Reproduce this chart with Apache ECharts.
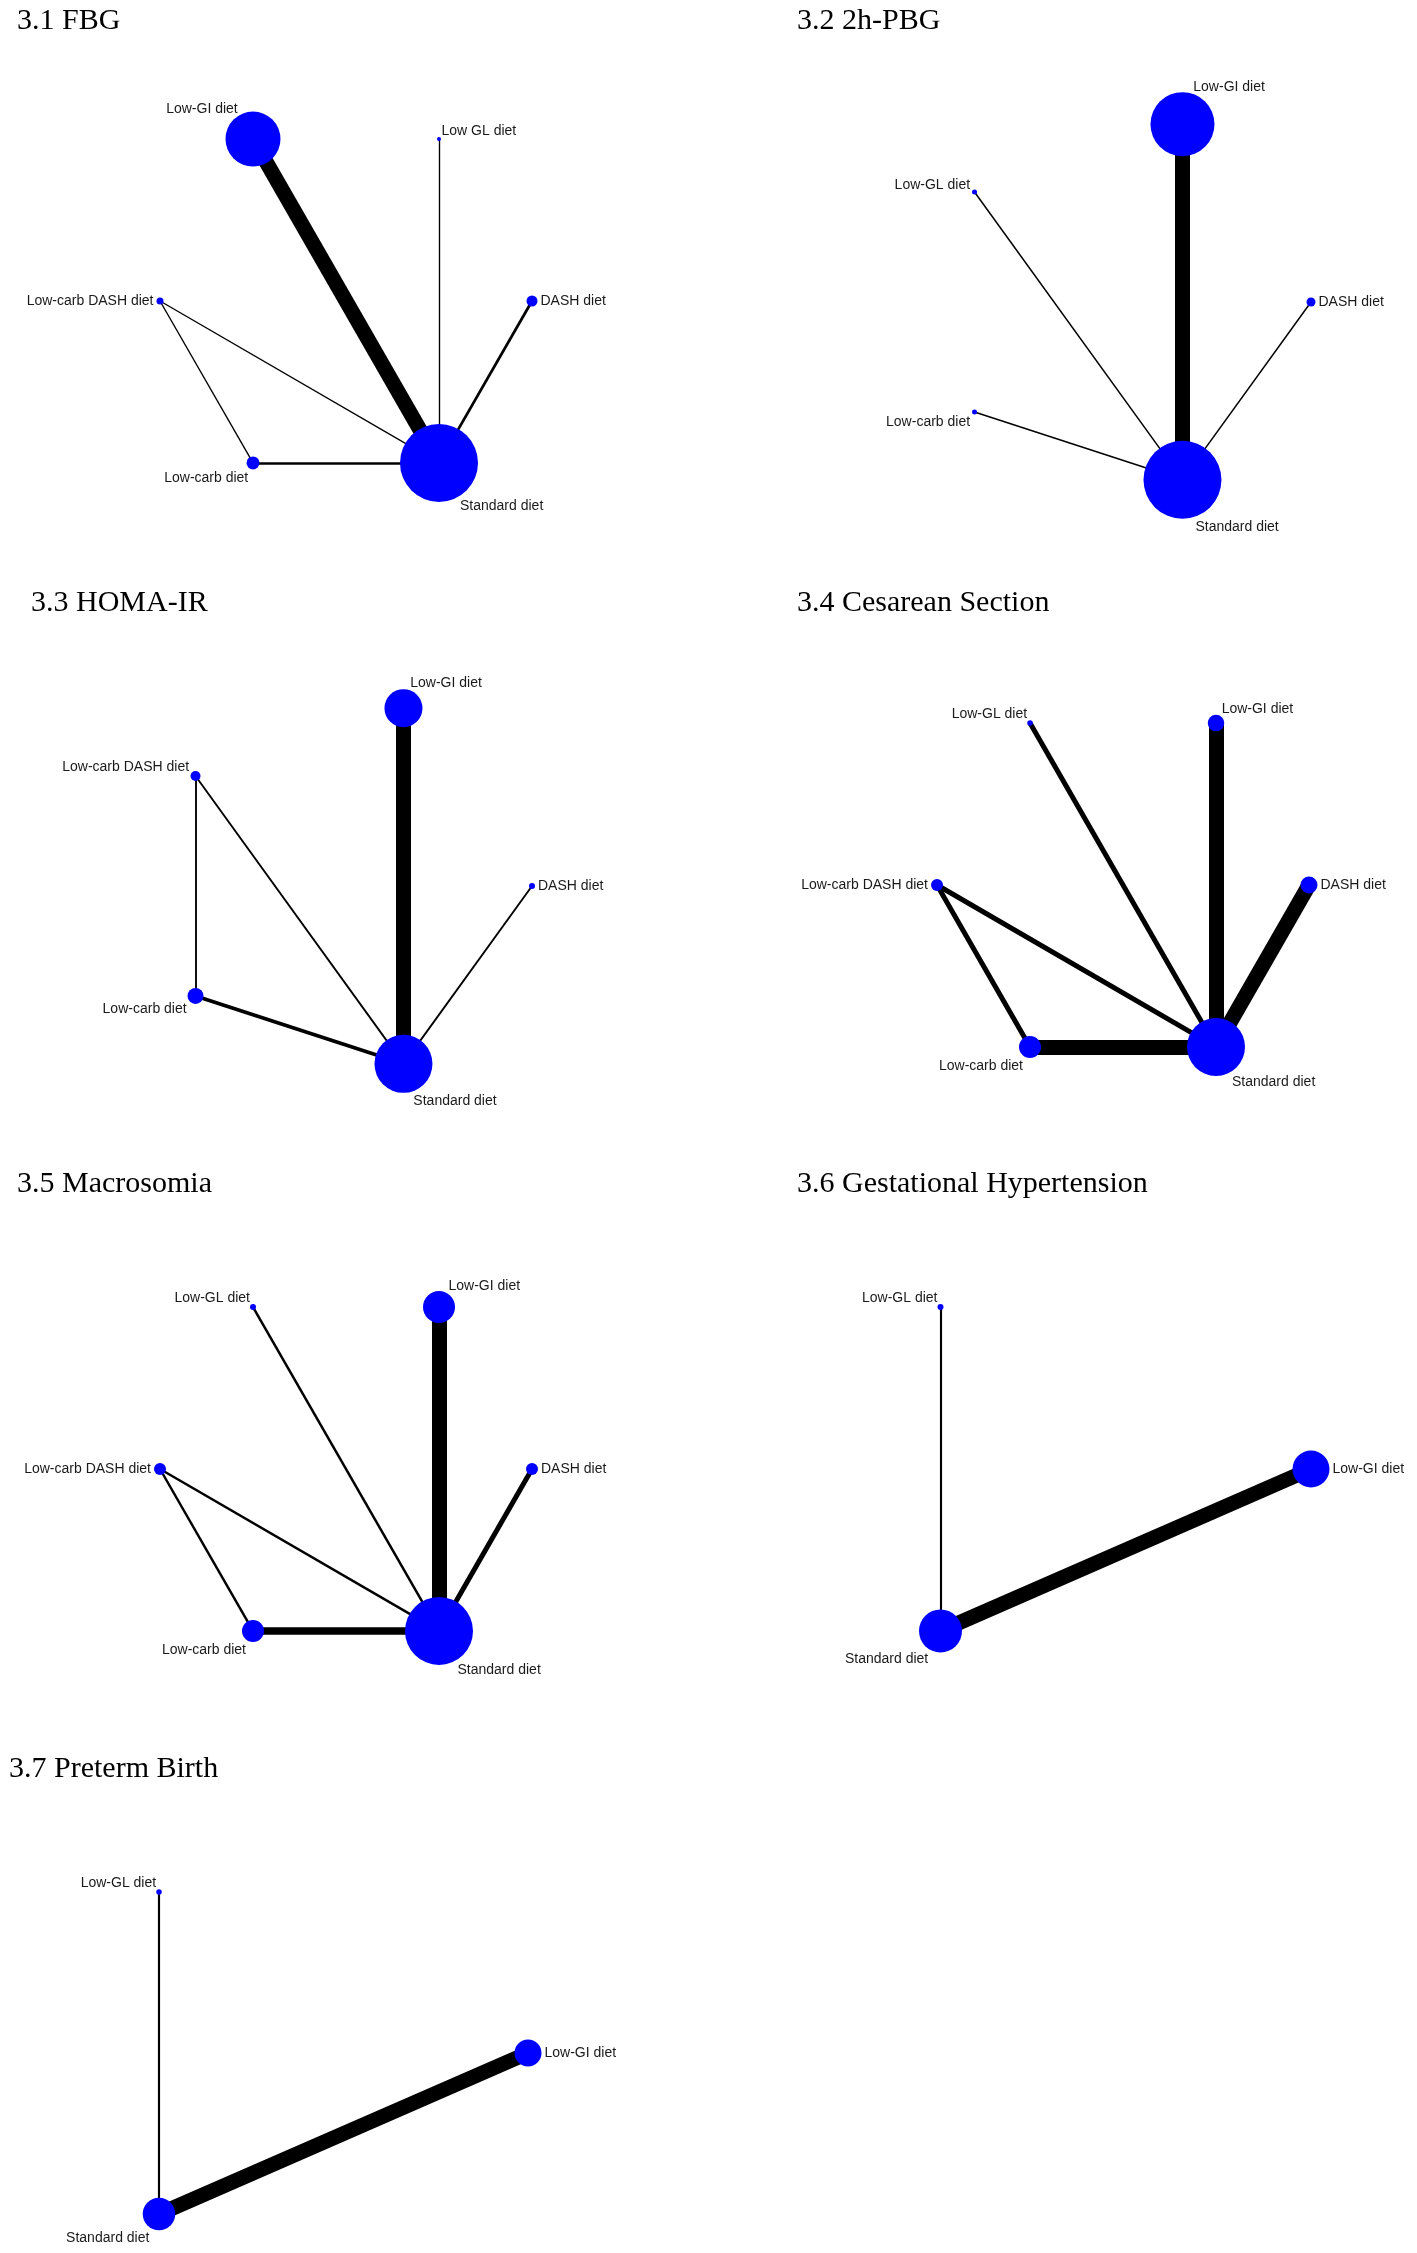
<!DOCTYPE html>
<html>
<head>
<meta charset="utf-8">
<title>Network plots</title>
<script src="https://cdn.jsdelivr.net/npm/echarts@6/dist/echarts.min.js"></script>
<style>
  html, body { margin: 0; padding: 0; background: #fff; }
  #chart { width: 1417px; height: 2253px; }
</style>
</head>
<body>
<div id="chart"></div>
<script>
// ---- data ----
// node layout positions (circle layout units), node weights, edges [from, to, studies]
var hexNames = ['DASH diet', 'Low-GI diet', 'Low-GL diet', 'Low-carb DASH diet', 'Low-carb diet', 'Standard diet'];
var hexX = [1, 0.5, -0.5, -1, -0.5, 0.5];
var hexY = [0, 0.866, 0.866, 0, -0.866, -0.866];
var pentX = [1, 0.309, -0.809, -0.809, 0.309];
var pentY = [0, 0.951, 0.588, -0.588, -0.951];
var triX = [1, -0.5, -0.5];
var triY = [0, 0.866, -0.866];

var titles = ['3.1 FBG', '3.2 2h-PBG', '3.3 HOMA-IR', '3.4 Cesarean Section',
  '3.5 Macrosomia', '3.6 Gestational Hypertension', '3.7 Preterm Birth'];

// 3.1 FBG
var fbgNames = ['DASH diet', 'Low GL diet', 'Low-GI diet', 'Low-carb DASH diet', 'Low-carb diet', 'Standard diet'];
var fbgWeight = [1.1, 0.4, 5.5, 0.7, 1.3, 7.8];
var fbgEdges = [
  ['Low-GI diet', 'Standard diet', 11],
  ['Low GL diet', 'Standard diet', 1],
  ['DASH diet', 'Standard diet', 2],
  ['Low-carb DASH diet', 'Standard diet', 1],
  ['Low-carb DASH diet', 'Low-carb diet', 1],
  ['Low-carb diet', 'Standard diet', 2]
];

// 3.2 2h-PBG
var pbgNames = ['DASH diet', 'Low-GI diet', 'Low-GL diet', 'Low-carb diet', 'Standard diet'];
var pbgWeight = [0.9, 6.4, 0.5, 0.5, 7.8];
var pbgEdges = [
  ['Low-GI diet', 'Standard diet', 10],
  ['Low-GL diet', 'Standard diet', 1],
  ['DASH diet', 'Standard diet', 1],
  ['Low-carb diet', 'Standard diet', 1]
];

// 3.3 HOMA-IR
var homaNames = ['DASH diet', 'Low-GI diet', 'Low-carb DASH diet', 'Low-carb diet', 'Standard diet'];
var homaWeight = [0.6, 3.8, 1.0, 1.6, 5.8];
var homaEdges = [
  ['Low-GI diet', 'Standard diet', 8],
  ['Low-carb DASH diet', 'Low-carb diet', 1],
  ['Low-carb DASH diet', 'Standard diet', 1],
  ['DASH diet', 'Standard diet', 1],
  ['Low-carb diet', 'Standard diet', 2]
];

// 3.4 Cesarean Section
var csWeight = [1.7, 1.65, 0.55, 1.2, 2.2, 5.8];
var csEdges = [
  ['Low-GI diet', 'Standard diet', 3],
  ['DASH diet', 'Standard diet', 3],
  ['Low-carb diet', 'Standard diet', 3],
  ['Low-GL diet', 'Standard diet', 1],
  ['Low-carb DASH diet', 'Standard diet', 1],
  ['Low-carb DASH diet', 'Low-carb diet', 1]
];

// 3.5 Macrosomia
var macWeight = [1.2, 3.2, 0.6, 1.2, 2.2, 6.8];
var macEdges = [
  ['Low-GI diet', 'Standard diet', 6],
  ['Low-carb diet', 'Standard diet', 3],
  ['DASH diet', 'Standard diet', 2],
  ['Low-GL diet', 'Standard diet', 1],
  ['Low-carb DASH diet', 'Standard diet', 1],
  ['Low-carb DASH diet', 'Low-carb diet', 1]
];

// 3.6 Gestational Hypertension / 3.7 Preterm Birth
var triNames = ['Low-GI diet', 'Low-GL diet', 'Standard diet'];
var ghWeight = [3.7, 0.6, 4.3];
var ghEdges = [['Low-GI diet', 'Standard diet', 7], ['Low-GL diet', 'Standard diet', 1]];
var pbWeight = [2.7, 0.55, 3.25];
var pbEdges = [['Low-GI diet', 'Standard diet', 7], ['Low-GL diet', 'Standard diet', 1]];

var panels = [
  {names: fbgNames, x: hexX, y: hexY, w: fbgWeight, edges: fbgEdges},
  {names: pbgNames, x: pentX, y: pentY, w: pbgWeight, edges: pbgEdges},
  {names: homaNames, x: pentX, y: pentY, w: homaWeight, edges: homaEdges},
  {names: hexNames, x: hexX, y: hexY, w: csWeight, edges: csEdges},
  {names: hexNames, x: hexX, y: hexY, w: macWeight, edges: macEdges},
  {names: triNames, x: triX, y: triY, w: ghWeight, edges: ghEdges},
  {names: triNames, x: triX, y: triY, w: pbWeight, edges: pbEdges}
];

// ---- page layout (pixels) ----
var frames = [
  {cx: 346, cy: 301, ux: 186, uy: 187, tx: 17, ty: 6},
  {cx: 1125, cy: 302, ux: 186, uy: 187, tx: 797, ty: 6},
  {cx: 346, cy: 886, ux: 186, uy: 187, tx: 31, ty: 588},
  {cx: 1123, cy: 885, ux: 186, uy: 187, tx: 797, ty: 588},
  {cx: 346, cy: 1469, ux: 186, uy: 187, tx: 17, ty: 1169},
  {cx: 1064, cy: 1469, ux: 247, uy: 187, tx: 797, ty: 1169},
  {cx: 282, cy: 2053, ux: 246, uy: 186, tx: 9, ty: 1754}
];

var NODE_PX = 10;     // symbol diameter per unit of weight
var EDGE_MAX = 15;    // width of the thickest edge in a panel
var SPAN = 1.05;

var grids = [], xAxes = [], yAxes = [], series = [], titleList = [];

panels.forEach(function (p, i) {
  var f = frames[i];
  grids.push({
    left: f.cx - f.ux * SPAN, top: f.cy - f.uy * SPAN,
    width: f.ux * SPAN * 2, height: f.uy * SPAN * 2
  });
  xAxes.push({type: 'value', gridIndex: i, min: -SPAN, max: SPAN, show: false});
  yAxes.push({type: 'value', gridIndex: i, min: -SPAN, max: SPAN, show: false});
  titleList.push({
    text: titles[i], left: f.tx, top: f.ty, padding: 0,
    textStyle: {fontFamily: 'Liberation Serif', fontSize: 30, fontWeight: 'normal', color: '#000'}
  });

  var maxStudies = 0;
  p.edges.forEach(function (e) { if (e[2] > maxStudies) maxStudies = e[2]; });

  var nodes = p.names.map(function (name, k) {
    var size = p.w[k] * NODE_PX;
    var len = Math.sqrt(p.x[k] * p.x[k] + p.y[k] * p.y[k]);
    var ux = p.x[k] / len, uy = -p.y[k] / len;
    var off = size / 2 + 3;
    var align = Math.abs(ux) < 0.2 ? 'center' : (ux > 0 ? 'left' : 'right');
    var valign = Math.abs(uy) < 0.2 ? 'middle' : (uy > 0 ? 'top' : 'bottom');
    // text sitting above a node: its box includes the descent, pull it down a bit
    var nudge = valign === 'bottom' ? 3 : 0;
    return {
      name: name,
      value: [p.x[k], p.y[k]],
      symbolSize: size,
      label: {
        show: true,
        position: [size / 2 + ux * off, size / 2 + uy * off + nudge],
        align: align,
        verticalAlign: valign
      }
    };
  });

  var links = p.edges.map(function (e) {
    return {source: e[0], target: e[1], lineStyle: {width: e[2] / maxStudies * EDGE_MAX}};
  });

  series.push({
    type: 'graph',
    coordinateSystem: 'cartesian2d',
    xAxisIndex: i, yAxisIndex: i,
    data: nodes,
    links: links,
    symbol: 'circle',
    itemStyle: {color: '#0000ff'},
    lineStyle: {color: '#000', opacity: 1, curveness: 0},
    label: {fontFamily: 'Liberation Sans', fontSize: 14, color: '#1a1a1a'},
    emphasis: {disabled: true},
    silent: true
  });
});

var chart = echarts.init(document.getElementById('chart'), null, {renderer: 'canvas'});
chart.setOption({
  backgroundColor: '#fff',
  animation: false,
  title: titleList,
  grid: grids,
  xAxis: xAxes,
  yAxis: yAxes,
  series: series
});
</script>
</body>
</html>
